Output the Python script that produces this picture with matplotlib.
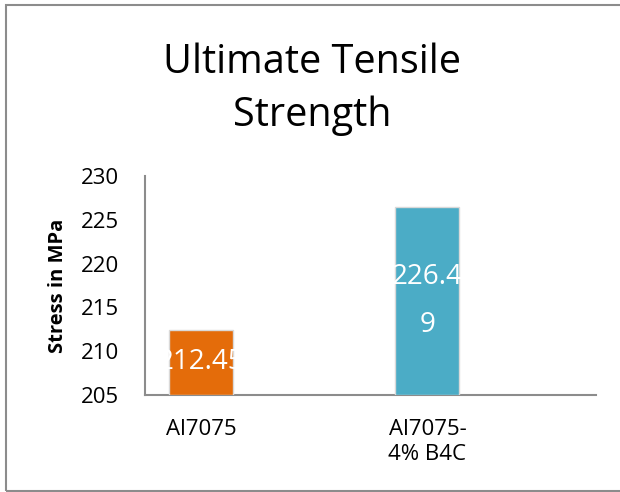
import matplotlib.pyplot as plt
from matplotlib.patches import Rectangle

plt.rcParams['font.family'] = ['Open Sans', 'DejaVu Sans']

materials = ['Al7075', 'Al7075-\n4% B4C']
stress = [212.45, 226.49]
bar_labels = ['212.45', '226.4\n9']
bar_colors = ['#E46C0A', '#4BACC6']
y_ticks = [205, 210, 215, 220, 225, 230]

fig = plt.figure(figsize=(6.2, 4.92), dpi=100)
ax = fig.add_axes([0.234, 0.197, 0.727, 0.445])

x = list(range(len(materials)))
base = y_ticks[0]
bars = ax.bar(x, [s - base for s in stress], bottom=base, width=0.283,
              color=bar_colors, edgecolor='#D9D9D9', linewidth=1.0, zorder=3)

# value labels sit in the middle of each bar
for b, txt in zip(bars, bar_labels):
    ax.text(b.get_x() + b.get_width() / 2, b.get_y() + b.get_height() / 2,
            txt, ha='center', va='center', color='white', fontsize=20,
            linespacing=1.95, zorder=4)

ax.set_xlim(-0.247, 1.744)
ax.set_ylim(y_ticks[0], y_ticks[-1])
ax.set_yticks(y_ticks)
ax.set_xticks(x)
ax.set_xticklabels(materials, fontsize=16, linespacing=1.3)
ax.tick_params(axis='y', labelsize=16, length=0, pad=19)
ax.tick_params(axis='x', length=0, pad=17)

ax.set_ylabel('Stress in MPa', fontsize=14.5, fontweight='bold', labelpad=9)

for side in ['top', 'right']:
    ax.spines[side].set_visible(False)
for side in ['left', 'bottom']:
    ax.spines[side].set_color('#8C8C8C')
    ax.spines[side].set_linewidth(1.5)

fig.text(0.503, 0.818, 'Ultimate Tensile\nStrength', ha='center', va='center',
         fontsize=28.5, linespacing=1.42)

# outer chart frame
fig.patches.append(Rectangle((6 / 620, 1 / 492), 1.2, 486 / 492, transform=fig.transFigure,
                             fill=False, edgecolor='#8C8C8C', linewidth=1.5))

fig.savefig('out.png', dpi=100)
